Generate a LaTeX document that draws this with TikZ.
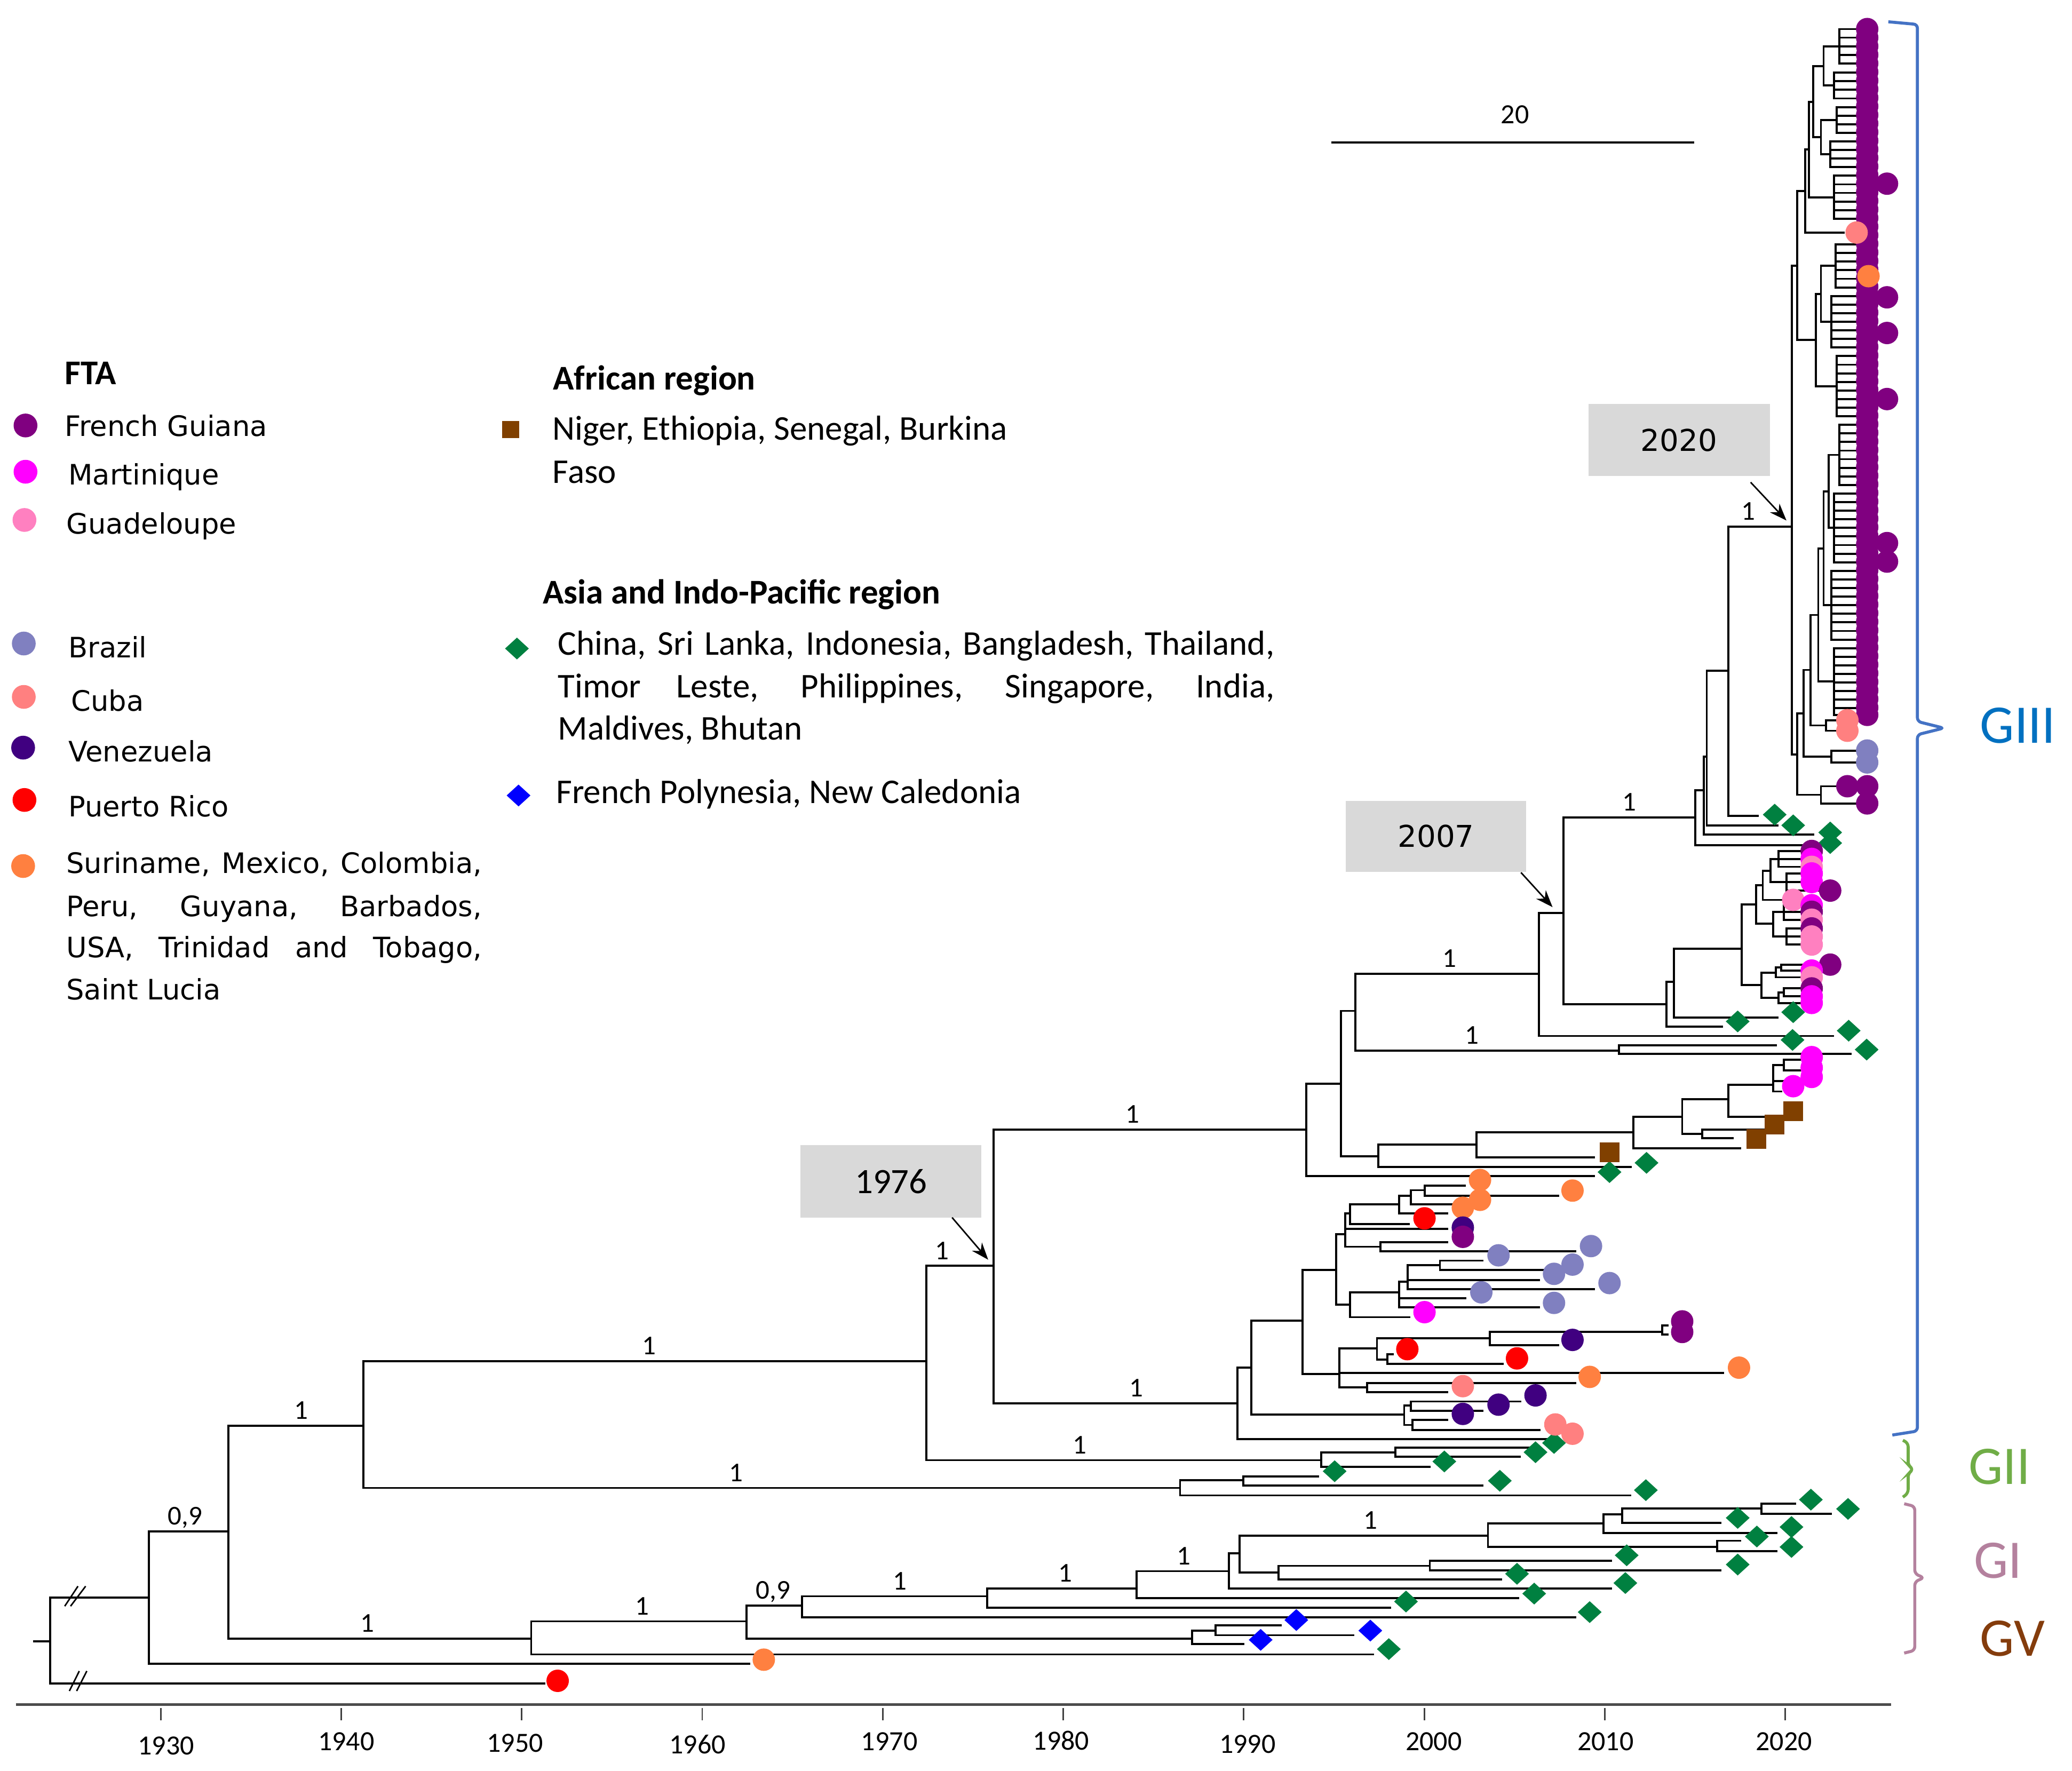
\documentclass[tikz,border=0pt]{standalone}
\usepackage{fontspec}
\setmainfont{Carlito}
\newfontfamily\dv{DejaVu Sans}
\usetikzlibrary{arrows.meta}
\definecolor{cFG}{HTML}{800080}
\definecolor{cMQ}{HTML}{FF00FF}
\definecolor{cGP}{HTML}{FF80C0}
\definecolor{cBR}{HTML}{8080C0}
\definecolor{cCU}{HTML}{FF8080}
\definecolor{cVE}{HTML}{400080}
\definecolor{cPR}{HTML}{FF0000}
\definecolor{cOR}{HTML}{FF8040}
\definecolor{cAF}{HTML}{804000}
\definecolor{cAS}{HTML}{008040}
\definecolor{cPO}{HTML}{0000FF}
\definecolor{cbox}{HTML}{D9D9D9}
\definecolor{cG3}{HTML}{0070C0}
\definecolor{cG3b}{HTML}{4472C4}
\definecolor{cG2}{HTML}{70AD47}
\definecolor{cG1}{HTML}{B4819E}
\definecolor{cG5}{HTML}{843C0C}
\newcommand{\fLeg}{\dv\fontsize{15}{18}\selectfont}
\newcommand{\fR}{\fontsize{18.5}{22}\selectfont}
\newcommand{\fLab}{\fontsize{14.5}{16}\selectfont}
\newcommand{\fYr}{\fontsize{14.8}{16}\selectfont}
\newcommand{\fG}{\fontsize{29}{32}\selectfont}
\tikzset{
 br/.style={line width=1.1pt, black, line cap=rect},
 blab/.style={anchor=base, inner sep=0pt, font=\fLab},
 yrlab/.style={anchor=center, inner sep=0pt, font=\fYr},
 legt/.style={anchor=base west, inner sep=0pt, font=\fLeg},
 legr/.style={anchor=base west, inner sep=0pt, font=\fR},
 yrbox/.style={fill=cbox, inner sep=0pt},
 arr/.style={line width=0.8pt, -{Stealth[length=0.32cm,width=0.24cm]}},
 gbr/.style={line width=1.6pt, rounded corners=2pt}
}
\newcommand{\vln}[3]{\draw[br] (#1,#2) -- (#1,#3);}
\newcommand{\hln}[3]{\draw[br] (#2,#1) -- (#3,#1);}
\newcommand{\cir}[3]{\fill[#1] (#2,#3) circle[radius=0.21cm];}
\newcommand{\dmd}[3]{\fill[#1] (#2,#3) +(0,-8.25) -- +(9,0) -- +(0,8.25) -- +(-9,0) -- cycle;}
\newcommand{\sqb}[3]{\fill[#1] (#2,#3) +(-7.5,-7.5) rectangle +(7.5,7.5);}
\newcommand{\blab}[3][1]{\node[blab] at (#2,#3) {#1};}
\newcommand{\comb}[4]{\draw[br] (#1,#2) -- (#1,#3); \foreach \yy in {#4} {\draw[br] (#1,\yy) -- (1405,\yy);}}
\begin{document}
\begin{tikzpicture}[x=0.024764cm, y=-0.024764cm]
\useasboundingbox (0,0) rectangle (1568,1340);
\fill[white] (0,0) rectangle (1568,1340);

% ---------- legend ----------
\node[legr, font=\fR\bfseries] (hFTA) at (48.9,290.8) {FTA};
\fill[cFG] (19.3,322) circle[radius=0.223cm];
\node[legt] (lFG) at (48.9,330) {French Guiana};
\fill[cMQ] (19.3,357) circle[radius=0.223cm];
\node[legt] (lMQ) at (51.5,367) {Martinique};
\fill[cGP] (18.5,393.5) circle[radius=0.223cm];
\node[legt] (lGP) at (50,404) {Guadeloupe};
\fill[cBR] (18,487) circle[radius=0.223cm];
\node[legt] (lBR) at (51.5,497.5) {Brazil};
\fill[cCU] (18,527.4) circle[radius=0.223cm];
\node[legt] (lCU) at (53.6,538) {Cuba};
\fill[cVE] (17.5,565.8) circle[radius=0.223cm];
\node[legt] (lVE) at (51.5,576.4) {Venezuela};
\fill[cPR] (18.5,605.4) circle[radius=0.223cm];
\node[legt] (lPR) at (51.5,618) {Puerto Rico};
\fill[cOR] (17.5,655.4) circle[radius=0.223cm];
\node[legt] (lOR1) at (50,661) {\makebox[7.786cm][s]{Suriname, Mexico, Colombia,}};
\node[legt] (lOR2) at (50,693.4) {\makebox[7.786cm][s]{Peru, Guyana, Barbados,}};
\node[legt] (lOR3) at (50,724.6) {\makebox[7.786cm][s]{USA, Trinidad and Tobago,}};
\node[legt] (lOR4) at (50,756.7) {Saint Lucia};

\node[legr, font=\fR\bfseries] (hAF) at (418.3,295) {African region};
\fill[cAF] (386.6,325) +(-6.5,-6.5) rectangle +(6.5,6.5);
\node[legr] (lAF1) at (418,333) {Niger, Ethiopia, Senegal, Burkina};
\node[legr] (lAF2) at (418,365.6) {Faso};
\node[legr, font=\fR\bfseries] (hAS) at (410.6,457) {Asia and Indo-Pacific region};
\dmd{cAS}{391.2}{490.8}
\node[legr] (lAS1) at (422,495.5) {\makebox[13.43cm][s]{China, Sri Lanka, Indonesia, Bangladesh, Thailand,}};
\node[legr] (lAS2) at (422,528) {\makebox[13.43cm][s]{Timor Leste, Philippines, Singapore, India,}};
\node[legr] (lAS3) at (422,560) {Maldives, Bhutan};
\dmd{cPO}{392.4}{602}
\node[legr] (lPO) at (420.6,608) {French Polynesia, New Caledonia};

% ---------- scale bar ----------
\draw[line width=1.1pt] (1007.4,107.7) -- (1282,107.7);
\node[yrlab] (sc) at (1146.5,86.8) {20};

% ---------- axis ----------
\draw[line width=1.3pt, black!70] (12,1290) -- (1431,1290);
\foreach \xx in {121.6,258.2,394.8,531.4,668,804.6,941.2,1077.8,1214.4,1351}
  \draw[line width=0.8pt, black!75] (\xx,1292.5) -- (\xx,1302);
\node[yrlab] (y1930) at (125.7,1321) {1930};
\node[yrlab] (y1940) at (262,1318) {1940};
\node[yrlab] (y1950) at (389.8,1319) {1950};
\node[yrlab] (y1960) at (527.8,1320) {1960};
\node[yrlab] (y1970) at (673,1318) {1970};
\node[yrlab] (y1980) at (803,1317) {1980};
\node[yrlab] (y1990) at (944,1320) {1990};
\node[yrlab] (y2000) at (1085,1318) {2000};
\node[yrlab] (y2010) at (1215,1318) {2010};
\node[yrlab] (y2020) at (1350,1318) {2020};

% ---------- tree: basal part ----------
\hln{1242}{26}{38}
\vln{38}{1209}{1274}
\hln{1209}{38}{112.5}
\hln{1274}{38}{412}
\draw[line width=0.8pt] (49,1215.5) -- (59,1200.4) (53.4,1215.5) -- (64.8,1200.4);
\draw[line width=0.8pt] (52.5,1279.7) -- (60,1264.6) (58,1279.7) -- (65.7,1264.6);
\vln{112.5}{1159}{1259}
\hln{1159}{112.5}{173}
\hln{1259}{112.5}{567}
\vln{173}{1079}{1240}
\hln{1079}{173}{275}
\hln{1240}{173}{402}
\vln{402}{1227}{1252}
\hln{1252}{402}{1039}
\hln{1227}{402}{565}
\vln{565}{1215}{1240}
\hln{1240}{565}{902}
\hln{1215}{565}{607}
\vln{902}{1234}{1244}
\hln{1234}{902}{920}
\hln{1244}{902}{941}
\vln{920}{1230}{1237.5}
\hln{1230}{920}{969}
\hln{1237.5}{920}{1024}
\vln{607}{1208}{1224}
\hln{1208}{607}{747}
\hln{1224}{607}{1192}
\vln{747}{1202}{1216.6}
\hln{1202}{747}{860}
\hln{1216.6}{747}{1052}
\vln{860}{1189}{1209.5}
\hln{1189}{860}{930}
\hln{1209.5}{860}{1149}
\vln{930}{1175.5}{1202}
\hln{1175.5}{930}{938}
\hln{1202}{930}{1219}
\vln{938}{1162}{1190}
\hln{1162}{938}{1126}
\hln{1190}{938}{967.6}
\vln{967.6}{1185}{1195.4}
\hln{1185}{967.6}{1082}
\hln{1195.4}{967.6}{1136}
\vln{1082}{1181}{1188.5}
\hln{1181}{1082}{1219}
\hln{1188.5}{1082}{1302}
\vln{1126}{1153}{1170.7}
\hln{1153}{1126}{1213.5}
\hln{1170.7}{1126}{1299.5}
\vln{1299.5}{1166}{1174}
\hln{1166}{1299.5}{1317}
\hln{1174}{1299.5}{1344.5}
\vln{1213.5}{1146}{1160}
\hln{1160}{1213.5}{1344.5}
\hln{1146}{1213.5}{1227.6}
\vln{1227.6}{1141.6}{1152.4}
\hln{1152.4}{1227.6}{1302}
\hln{1141.6}{1227.6}{1333}
\vln{1333}{1138}{1145.5}
\hln{1138}{1333}{1358.5}
\hln{1145.5}{1333}{1385.6}
% GII
\vln{275}{1030}{1126}
\hln{1030}{275}{701}
\hln{1126}{275}{893}
\vln{893}{1120}{1131.7}
\hln{1120}{893}{940.7}
\hln{1131.7}{893}{1233.7}
\vln{940.7}{1117.4}{1124.2}
\hln{1117.4}{940.7}{997.5}
\hln{1124.2}{940.7}{1122}
\vln{701}{958}{1105}
\hln{958}{701}{752}
\hln{1105}{701}{1000}
\vln{1000}{1099}{1110}
\hln{1099}{1000}{1056}
\hln{1110}{1000}{1082}
\vln{1056}{1095.4}{1102.5}
\hln{1095.4}{1056}{1162}
\hln{1102.5}{1056}{1150}
% 1976 node
\vln{752}{855}{1062}
\hln{855}{752}{988.6}
\hln{1062}{752}{936.5}
% Y cluster
\vln{936.5}{1035}{1089}
\hln{1035}{936.5}{946.8}
\hln{1089}{936.5}{1180}
\vln{946.8}{999.6}{1070.6}
\hln{999.6}{946.8}{985.6}
\hln{1070.6}{946.8}{1062.6}
\vln{1062.6}{1063.7}{1078.4}
\hln{1063.7}{1062.6}{1067.8}
\hln{1078.4}{1062.6}{1069}
\vln{1067.8}{1060.6}{1067.6}
\hln{1060.6}{1067.8}{1150.5}
\hln{1067.6}{1067.8}{1122}
\vln{1069}{1074.5}{1082.2}
\hln{1074.5}{1069}{1095}
\hln{1082.2}{1069}{1165}
\vln{985.6}{961}{1039.7}
\hln{961}{985.6}{1011.2}
\hln{1039.7}{985.6}{1013.7}
\vln{1011.2}{933.9}{987.2}
\hln{933.9}{1011.2}{1018}
\hln{987.2}{1011.2}{1021.5}
\vln{1018}{918.4}{943.5}
\hln{918.4}{1018}{1021.5}
\hln{930}{1018}{1095}
\hln{943.5}{1018}{1044.6}
\vln{1021.5}{911.5}{926.2}
\hln{911.5}{1021.5}{1058.8}
\hln{926.2}{1021.5}{1066}
\vln{1058.8}{905}{918.4}
\hln{905}{1058.8}{1067.8}
\hln{918.4}{1058.8}{1095}
\vln{1067.8}{900.7}{911.5}
\hln{900.7}{1067.8}{1078}
\hln{911.5}{1067.8}{1108}
\vln{1078}{897.3}{905}
\hln{897.3}{1078}{1108.6}
\hln{905}{1078}{1179}
\vln{1044.6}{940}{947.1}
\hln{940}{1044.6}{1095}
\hln{947.1}{1044.6}{1192}
\vln{1021.5}{978}{996.8}
\hln{978}{1021.5}{1058.8}
\hln{996.8}{1021.5}{1066.3}
\vln{1058.8}{970}{989.5}
\hln{970}{1058.8}{1065.2}
\hln{982.6}{1058.8}{1109}
\hln{989.5}{1058.8}{1164.7}
\vln{1065.2}{957.5}{975.6}
\hln{957.5}{1065.2}{1089.7}
\hln{968.7}{1065.2}{1164.7}
\hln{975.6}{1065.2}{1206}
\vln{1089.7}{954}{961}
\hln{954}{1089.7}{1122}
\hln{961}{1089.7}{1178}
\vln{1013.7}{1020.4}{1049.8}
\hln{1020.4}{1013.7}{1042}
\hln{1039}{1013.7}{1304}
\hln{1049.8}{1013.7}{1034.4}
\vln{1042}{1012.7}{1029}
\hln{1012.7}{1042}{1127.4}
\hln{1029}{1042}{1049.8}
\vln{1127.4}{1008}{1018}
\hln{1008}{1127.4}{1258}
\hln{1018}{1127.4}{1179}
\vln{1258}{1003}{1010}
\hln{1003}{1258}{1262}
\hln{1010}{1258}{1262}
\vln{1049.8}{1025}{1032}
\hln{1025}{1049.8}{1054}
\hln{1032}{1049.8}{1137}
\vln{1034.4}{1046.7}{1053.7}
\hln{1046.7}{1034.4}{1192}
\hln{1053.7}{1034.4}{1095}
% Z and African part
\vln{988.6}{820}{890}
\hln{820}{988.6}{1014.7}
\hln{890}{988.6}{1206}
\vln{1014.7}{765}{875}
\hln{765}{1014.7}{1025.7}
\hln{875}{1014.7}{1043}
\vln{1025.7}{737}{795}
\hln{737}{1025.7}{1164.5}
\hln{795}{1025.7}{1225}
\vln{1225}{791}{797.7}
\hln{791}{1225}{1344}
\hln{797.7}{1225}{1400.5}
\vln{1043}{866}{883}
\hln{866}{1043}{1117.5}
\hln{883}{1043}{1234}
\vln{1117.5}{857}{876}
\hln{857}{1117.5}{1236}
\hln{876}{1117.5}{1206}
\vln{1236}{845}{869}
\hln{845}{1236}{1273}
\hln{869}{1236}{1317}
\vln{1273}{832}{858}
\hln{832}{1273}{1308}
\hln{858}{1273}{1288}
\vln{1288}{855}{861.5}
\hln{855}{1288}{1336}
\hln{861.5}{1288}{1311}
\vln{1308}{821}{845}
\hln{821}{1308}{1342}
\hln{845}{1308}{1350}
\vln{1342}{806}{826}
\hln{806}{1342}{1350}
\hln{818}{1342}{1362}
\hln{826}{1342}{1348}
\vln{1350}{802}{810}
\hln{802}{1350}{1362}
\hln{810}{1350}{1362}
% 2007 node
\vln{1164.5}{691}{784}
\hln{691}{1164.5}{1183}
\hln{784}{1164.5}{1387}
\vln{1183}{618.5}{760}
\hln{618.5}{1183}{1283}
\hln{760}{1183}{1261}
\vln{1261}{743}{777}
\hln{743}{1261}{1266.6}
\hln{777}{1261}{1303}
\vln{1266.6}{718}{770}
\hln{718}{1266.6}{1318}
\hln{770}{1266.6}{1345}
\vln{1318}{684.5}{745.5}
\hln{684.5}{1318}{1329}
\hln{745.5}{1318}{1333}
\vln{1329}{670}{699}
\hln{670}{1329}{1334}
\hln{699}{1329}{1342}
\vln{1334}{659}{681}
\hln{659}{1334}{1340}
\hln{681}{1334}{1350}
\vln{1340}{650}{667.5}
\hln{650}{1340}{1346}
\hln{667.5}{1340}{1352}
\vln{1346}{644}{656}
\foreach \yy in {644,650,656} {\hln{\yy}{1346}{1362}}
\vln{1352}{661}{674}
\hln{661}{1352}{1362}
\hln{667.5}{1352}{1362}
\hln{674}{1352}{1377}
\vln{1342}{690}{708.7}
\hln{690}{1342}{1350}
\hln{708.7}{1342}{1352}
\vln{1350}{685}{696}
\foreach \yy in {685,690,696} {\hln{\yy}{1350}{1362}}
\vln{1352}{702.6}{714.8}
\foreach \yy in {702.6,708.7,714.8} {\hln{\yy}{1352}{1362}}
\vln{1333}{736}{755}
\hln{736}{1333}{1344}
\hln{755}{1333}{1346}
\vln{1344}{732}{739.6}
\hln{732}{1344}{1348}
\hln{739.6}{1344}{1362}
\vln{1348}{730}{734.5}
\hln{730}{1348}{1377}
\hln{734.5}{1348}{1362}
\vln{1346}{751}{759}
\hln{751}{1346}{1350}
\hln{759}{1346}{1362}
\vln{1350}{748}{754}
\hln{748}{1350}{1362}
\hln{754}{1350}{1362}
% 2020 ancestors
\vln{1283}{598}{639.6}
\hln{598}{1283}{1289.3}
\hln{639.6}{1283}{1372}
\vln{1289.3}{572.5}{631.6}
\hln{572.5}{1289.3}{1291.6}
\hln{631.6}{1289.3}{1372}
\vln{1291.6}{507.5}{624.6}
\hln{507.5}{1291.6}{1308}
\hln{624.6}{1291.6}{1345}
\vln{1308}{398.6}{617.6}
\hln{398.6}{1308}{1356}
\hln{617.6}{1308}{1330}
% 2020 cluster
\vln{1356}{201}{571}
\hln{201}{1356}{1360}
\hln{571}{1356}{1360}
\comb{1392}{22}{48}{22,28.5,35,41.5,48}
\comb{1388}{55}{74.5}{55,61.5,68,74.5}
\comb{1390}{81}{100.5}{81,87.5,94,100.5}
\comb{1385}{107}{126.5}{107,113.5,120,126.5}
\comb{1388}{133}{165.5}{133,139.5,146,152.5,159,165.5}
\comb{1389}{185}{217.5}{185,191.5,198,204.5,211,217.5}
\comb{1386}{224}{263}{224,230.5,237,243.5,250,256.5,263}
\comb{1390}{269.5}{315}{269.5,276,282.5,289,295.5,302,308.5,315}
\comb{1392}{321.5}{367}{321.5,328,334.5,341,347.5,354,360.5,367}
\comb{1388}{373.5}{425.5}{373.5,380,386.5,393,399.5,406,412.5,419,425.5}
\comb{1386}{432}{484}{432,438.5,445,451.5,458,464.5,471,477.5,484}
\comb{1388}{490.5}{541}{490.5,497,503.5,510,516.5,523,529.5,536,541}
\foreach \yy in {139.5,224,250,302,412.5,425.5} {\hln{\yy}{1405}{1420}}
\vln{1380}{35}{64.75}
\hln{35}{1380}{1392}
\hln{64.75}{1380}{1388}
\vln{1378}{90.75}{116.75}
\hln{90.75}{1378}{1390}
\hln{116.75}{1378}{1385}
\vln{1372}{50}{103.75}
\hln{50}{1372}{1380}
\hln{103.75}{1372}{1378}
\vln{1369}{77}{149.25}
\hln{77}{1369}{1372}
\hln{149.25}{1369}{1388}
\vln{1366}{113}{176}
\hln{113}{1366}{1369}
\hln{176}{1366}{1395}
\vln{1378}{201.25}{243.5}
\hln{201.25}{1378}{1389}
\hln{243.5}{1378}{1386}
\vln{1374}{222.4}{292.25}
\hln{222.4}{1374}{1378}
\hln{292.25}{1374}{1390}
\vln{1360}{144.5}{257.3}
\hln{144.5}{1360}{1366}
\hln{257.3}{1360}{1374}
\vln{1384}{344.25}{399.5}
\hln{344.25}{1384}{1392}
\hln{399.5}{1384}{1388}
\vln{1380}{372}{458}
\hln{372}{1380}{1384}
\hln{458}{1380}{1386}
\vln{1376}{415}{515.75}
\hln{415}{1376}{1380}
\hln{515.75}{1376}{1388}
\vln{1382}{545}{553}
\hln{545}{1382}{1392}
\hln{553}{1382}{1392}
\vln{1370}{465.4}{549}
\hln{465.4}{1370}{1376}
\hln{549}{1370}{1382}
\vln{1386}{568}{577}
\hln{568}{1386}{1405}
\hln{577}{1386}{1405}
\vln{1365}{507}{572.5}
\hln{507}{1365}{1370}
\hln{572.5}{1365}{1386}
\vln{1378}{595}{608}
\hln{595}{1378}{1405}
\hln{608}{1378}{1405}
\vln{1360}{540}{601.5}
\hln{540}{1360}{1365}
\hln{601.5}{1360}{1378}

% ---------- branch labels ----------
\blab{1323}{393.6}
\blab{1233}{613.5}
\blab{1097}{732}
\blab{1114}{790}
\blab{857}{850}
\blab{713}{953}
\blab{860}{1057}
\blab{491}{1025}
\blab{228}{1074}
\blab{817}{1100}
\blab{557}{1121}
\blab[0,9]{140}{1154}
\blab{278}{1235}
\blab{486}{1222}
\blab[0,9]{585}{1210}
\blab{681}{1203}
\blab{806}{1197}
\blab{896}{1184}
\blab{1037}{1157}

% ---------- date boxes ----------
\node[yrbox, minimum width=3.40cm, minimum height=1.35cm, font=\dv\fontsize{16}{18}\selectfont] (b2020) at (1270.6,333) {2020};
\node[yrbox, minimum width=3.38cm, minimum height=1.33cm, font=\dv\fontsize{16}{18}\selectfont] (b2007) at (1086.7,632.9) {2007};
\node[yrbox, minimum width=3.39cm, minimum height=1.355cm, font=\fontsize{19}{21}\selectfont] (b1976) at (674.3,894) {1976};
\coordinate (t2020) at (1351.9,393.9);
\coordinate (s2020) at (1324.8,365);
\coordinate (t2007) at (1174.9,686.5);
\coordinate (s2007) at (1151,660.3);
\coordinate (t1976) at (747.8,953.3);
\coordinate (s1976) at (720.5,921.4);
\draw[arr] (s2020) -- (t2020);
\draw[arr] (s2007) -- (t2007);
\draw[arr] (s1976) -- (t1976);

% ---------- tip symbols ----------
\cir{cPR}{422}{1272}
\cir{cOR}{578}{1256}
\foreach \xx/\yy in {1051/1248, 1064/1212, 1161/1206, 1203/1220, 1230/1198, 1148/1191, 1231/1177, 1315/1184,
  1329.5/1162.8, 1355.7/1170.7, 1355.7/1155.6, 1315/1148.7, 1370.4/1134.9, 1398.5/1141.9,
  1010/1113.4, 1135/1120.6, 1245.5/1127.7, 1093/1106, 1176/1092, 1162/1099,
  1218/887, 1246/880, 1356.5/787, 1412.6/794.3, 1399/780, 1315/773, 1357/766,
  1385/638, 1385/630, 1357/624.6, 1343/616.5}
  {\dmd{cAS}{\xx}{\yy}}
\foreach \xx/\yy in {981/1226, 1037/1234, 954/1241} {\dmd{cPO}{\xx}{\yy}}
\foreach \xx/\yy in {1218/872, 1329/862, 1343/851, 1357/841} {\sqb{cAF}{\xx}{\yy}}
% Y cluster symbols
\foreach \xx/\yy in {1120/893, 1190/901, 1120/908, 1107/914, 1316/1035, 1203/1042} {\cir{cOR}{\xx}{\yy}}
\foreach \xx/\yy in {1078/922, 1065/1021, 1148/1028} {\cir{cPR}{\xx}{\yy}}
\foreach \xx/\yy in {1107/929, 1190/1014, 1162/1056, 1134/1063, 1107/1070} {\cir{cVE}{\xx}{\yy}}
\foreach \xx/\yy in {1107/936, 1273/1000, 1273/1008} {\cir{cFG}{\xx}{\yy}}
\foreach \xx/\yy in {1204/943, 1134/950, 1190/957, 1176/964, 1218/971, 1121/978, 1176/986} {\cir{cBR}{\xx}{\yy}}
\cir{cMQ}{1078}{993}
\foreach \xx/\yy in {1107/1049, 1177/1078, 1190/1085} {\cir{cCU}{\xx}{\yy}}
% Martinique cluster symbols
\foreach \xx/\yy in {1371/800, 1371/808, 1371/815, 1357/822} {\cir{cMQ}{\xx}{\yy}}
\cir{cFG}{1371}{644} \cir{cMQ}{1371}{650} \cir{cGP}{1371}{656} \cir{cMQ}{1371}{661}
\cir{cMQ}{1371}{667.5} \cir{cFG}{1385}{674} \cir{cGP}{1357}{681} \cir{cMQ}{1371}{685}
\cir{cFG}{1371}{690} \cir{cGP}{1371}{696} \cir{cFG}{1371}{702.6} \cir{cGP}{1371}{708.7}
\cir{cGP}{1371}{714.8} \cir{cFG}{1385}{730} \cir{cMQ}{1371}{734.5} \cir{cGP}{1371}{739.6}
\cir{cFG}{1371}{748} \cir{cMQ}{1371}{754} \cir{cMQ}{1371}{759}
% 2020 cluster symbols
\foreach \yy in {22,28.5,...,536} {\cir{cFG}{1413}{\yy}}
\cir{cFG}{1413}{541}
\foreach \yy in {139,225,252,302,411,425} {\cir{cFG}{1428}{\yy}}
\cir{cCU}{1405}{176}
\cir{cOR}{1414}{209}
\cir{cCU}{1398}{545} \cir{cCU}{1398}{553}
\cir{cBR}{1413}{568} \cir{cBR}{1413}{577}
\cir{cFG}{1398}{595} \cir{cFG}{1413}{595} \cir{cFG}{1413}{608}

% ---------- genotype brackets ----------
\draw[gbr, cG3b] (1429,16.5) -- (1451,18.5) -- (1451,546) -- (1471,551) -- (1451,556) -- (1451,1083) -- (1432,1086);
\node[font=\fG, text=cG3] (gIII) at (1527,549) {GIII};
\draw[gbr, cG2] (1440,1090) -- (1444,1092) -- (1444,1109) -- (1448,1112) -- (1444,1115) -- (1444,1130) -- (1440,1133);
\node[font=\fG, text=cG2] (gII) at (1513,1110) {GII};
\draw[gbr, cG1] (1441,1138) -- (1449,1140) -- (1449,1191) -- (1456,1194) -- (1449,1197) -- (1449,1249) -- (1441,1251);
\node[font=\fG, text=cG1] (gI) at (1512,1181) {GI};
\node[font=\fG, text=cG5] (gV) at (1523,1240) {GV};
\end{tikzpicture}
\end{document}
